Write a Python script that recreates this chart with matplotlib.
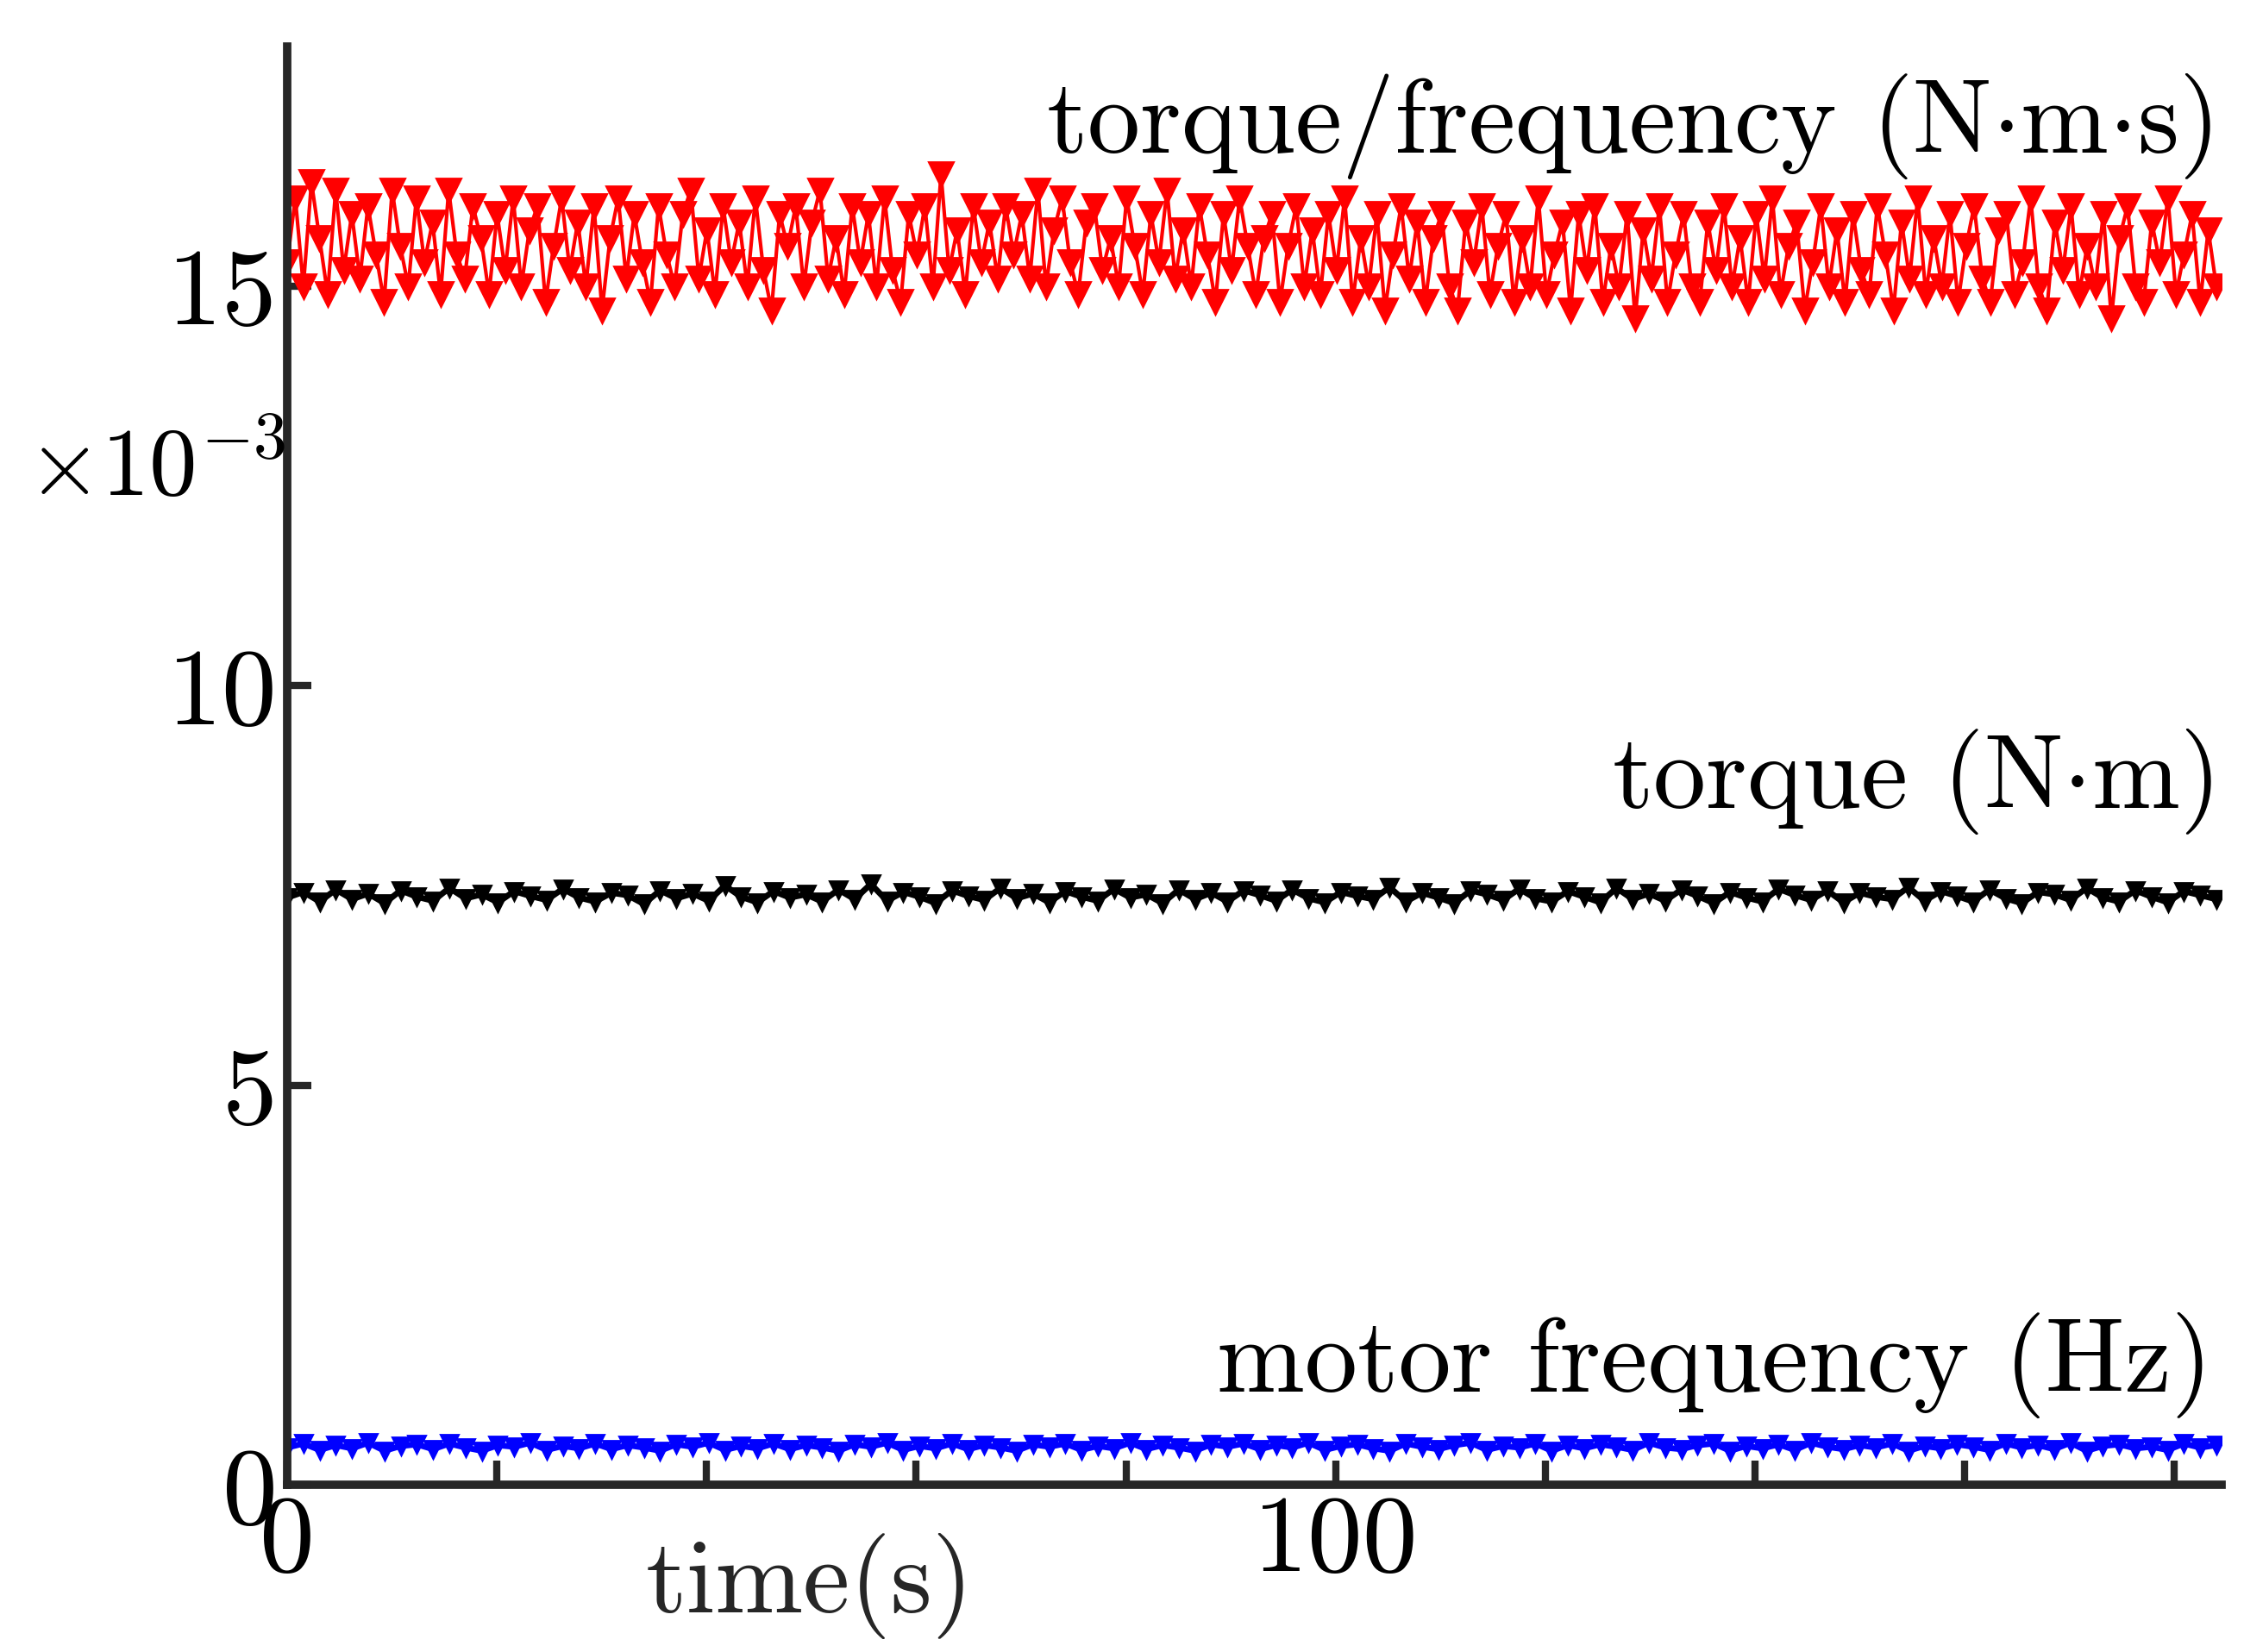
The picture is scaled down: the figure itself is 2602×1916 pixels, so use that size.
import numpy as np
import matplotlib

matplotlib.use("Agg")
import matplotlib.pyplot as plt

plt.rcParams["font.family"] = ["cmr10", "DejaVu Serif"]
plt.rcParams["mathtext.fontset"] = "cm"
plt.rcParams["axes.formatter.use_mathtext"] = True

# values in units of 1e-3 (axis is labelled x10^-3)
ratio = [
    15.3, 16.1, 15.0, 16.3, 15.6, 14.9, 16.2, 15.2, 15.9, 15.1, 16.0, 15.4, 14.8, 16.2, 15.5,
    15.0, 16.1, 15.3, 15.8, 14.9, 16.2, 15.4, 15.1, 16.0, 15.6, 14.9, 15.9, 15.2, 16.1, 15.0,
    15.7, 16.0, 14.8, 15.5, 16.1, 15.2, 15.8, 15.0, 16.0, 14.7, 15.6, 16.1, 15.1, 15.9, 15.3,
    14.8, 16.0, 15.4, 15.0, 15.9, 16.2, 15.1, 15.7, 14.9, 16.0, 15.3, 15.8, 15.0, 16.1, 15.2,
    14.7, 15.9, 15.5, 16.0, 15.0, 15.8, 16.2, 15.1, 15.6, 14.9, 16.0, 15.3, 15.9, 15.0, 16.1,
    15.2, 14.8, 15.9, 15.4, 16.0, 15.0, 16.4, 15.2, 15.7, 14.9, 16.0, 15.3, 15.8, 15.1, 16.0,
    15.4, 15.9, 15.1, 16.2, 15.0, 15.7, 16.1, 15.3, 14.9, 15.8, 16.0, 15.2, 15.6, 15.0, 16.1,
    15.5, 14.9, 15.9, 15.3, 16.2, 15.1, 15.7, 15.0, 16.0, 15.4, 14.8, 15.9, 15.2, 16.1, 15.5,
    14.9, 15.6, 15.9, 14.8, 15.5, 16.0, 15.0, 15.7, 14.9, 15.9, 15.2, 16.1, 14.8, 15.6, 15.0,
    15.9, 14.7, 15.4, 16.0, 15.1, 15.8, 14.8, 15.6, 15.9, 15.0, 14.7, 15.8, 15.3, 16.0, 14.9,
    15.5, 15.9, 14.8, 15.6, 15.0, 16.1, 14.9, 15.4, 15.8, 14.7, 15.9, 15.2, 16.0, 14.8, 15.5,
    15.0, 15.9, 14.6, 15.7, 15.1, 16.0, 14.8, 15.4, 15.9, 15.0, 14.8, 15.8, 15.2, 16.0, 15.0,
    15.6, 14.8, 15.9, 15.1, 16.1, 14.9, 15.5, 15.8, 14.7, 15.3, 16.0, 15.0, 15.7, 14.8, 15.9,
    15.2, 14.9, 16.0, 15.4, 14.7, 15.8, 15.1, 16.1, 14.9, 15.6, 15.0, 15.9, 14.8, 15.5, 16.0,
    15.1, 14.8, 15.7, 15.9, 14.9, 15.3, 16.1, 15.0, 14.7, 15.8, 15.2, 16.0, 14.9, 15.5, 15.0,
    15.9, 14.6, 15.6, 16.0, 15.0, 14.8, 15.8, 15.3, 16.1, 14.9, 15.4, 15.9, 14.8, 15.7, 15.0,
]
torque = [
    7.35, 7.42, 7.30, 7.45, 7.33, 7.40, 7.28, 7.44, 7.36, 7.31, 7.47, 7.34, 7.39, 7.29, 7.43,
    7.37, 7.32, 7.46, 7.35, 7.30, 7.41, 7.38, 7.27, 7.44, 7.34, 7.40, 7.31, 7.50, 7.36, 7.29,
    7.43, 7.35, 7.39, 7.30, 7.45, 7.33, 7.52, 7.31, 7.42, 7.36, 7.28, 7.44, 7.37, 7.32, 7.47,
    7.34, 7.40, 7.29, 7.43, 7.36, 7.31, 7.46, 7.35, 7.39, 7.28, 7.45, 7.33, 7.41, 7.30, 7.44,
    7.38, 7.31, 7.45, 7.34, 7.29, 7.42, 7.37, 7.33, 7.48, 7.30, 7.41, 7.35, 7.28, 7.44, 7.39,
    7.32, 7.46, 7.34, 7.30, 7.43, 7.36, 7.29, 7.47, 7.33, 7.40, 7.31, 7.45, 7.37, 7.28, 7.42,
    7.35, 7.30, 7.46, 7.38, 7.32, 7.44, 7.29, 7.41, 7.36, 7.33, 7.48, 7.31, 7.43, 7.37, 7.30,
    7.45, 7.34, 7.28, 7.42, 7.39, 7.32, 7.47, 7.35, 7.30, 7.44, 7.36, 7.29, 7.43, 7.38, 7.33,
]
freq = [
    0.47, 0.52, 0.44, 0.50, 0.46, 0.53, 0.43, 0.49, 0.51, 0.45, 0.52, 0.47, 0.43, 0.50, 0.48,
    0.53, 0.44, 0.49, 0.46, 0.52, 0.45, 0.50, 0.47, 0.43, 0.51, 0.48, 0.53, 0.44, 0.49, 0.46,
    0.52, 0.45, 0.50, 0.47, 0.43, 0.51, 0.48, 0.53, 0.44, 0.49, 0.46, 0.52, 0.45, 0.50, 0.47,
    0.43, 0.51, 0.48, 0.52, 0.44, 0.49, 0.46, 0.53, 0.45, 0.50, 0.47, 0.43, 0.51, 0.48, 0.52,
    0.45, 0.50, 0.47, 0.53, 0.44, 0.49, 0.51, 0.46, 0.43, 0.52, 0.48, 0.45, 0.50, 0.53, 0.44,
    0.49, 0.47, 0.52, 0.43, 0.50, 0.46, 0.51, 0.48, 0.44, 0.53, 0.47, 0.45, 0.50, 0.52, 0.43,
    0.49, 0.46, 0.51, 0.44, 0.53, 0.48, 0.45, 0.50, 0.47, 0.52, 0.43, 0.49, 0.46, 0.51, 0.48,
    0.44, 0.52, 0.47, 0.50, 0.45, 0.53, 0.43, 0.49, 0.51, 0.46, 0.48, 0.44, 0.52, 0.47, 0.50,
]
t_end = 184.0

fig = plt.figure(figsize=(13.01, 9.58), dpi=200)
ax = fig.add_axes([0.128, 0.101, 0.862, 0.871])

t_r = np.linspace(0, t_end, len(ratio))
t_t = np.linspace(0, t_end, len(torque))
t_f = np.linspace(0, t_end, len(freq))
ax.plot(t_r, ratio, color="red", marker="v", ms=10, lw=1.5)
ax.plot(t_t, torque, color="black", marker="v", ms=7, lw=2.5)
ax.plot(t_f, freq, color="blue", marker="v", ms=7, lw=2.5)

ax.set_xlim(0, 184.5)
ax.set_ylim(0, 18)
ax.set_yticks([0, 5, 10, 15])
ax.set_yticklabels(["0", "5", "10", "15"])
ax.set_xticks(np.arange(0, 181, 20))
ax.set_xticklabels(["0" if v == 0 else ("100" if v == 100 else "") for v in range(0, 181, 20)])
ax.tick_params(direction="in", length=10, width=3, labelsize=46, colors="#262626",
               labelcolor="black", pad=4)
for s in ["top", "right"]:
    ax.spines[s].set_visible(False)
for s in ["left", "bottom"]:
    ax.spines[s].set_linewidth(3.5)
    ax.spines[s].set_color("#262626")

ax.text(0.27, -0.07, "time(s)", transform=ax.transAxes, fontsize=44, ha="center",
        va="center", color="#262626")
fig.text(0.012, 0.70, r"$\times10^{\mathregular{-3}}$", fontsize=40)

ax.text(0.995, 17.0, r"torque/frequency (N$\cdot$m$\cdot$s)", fontsize=44, ha="right",
        va="center", transform=ax.get_yaxis_transform())
ax.text(0.995, 8.8, r"torque (N$\cdot$m)", fontsize=44, ha="right", va="center",
        transform=ax.get_yaxis_transform())
ax.text(0.995, 1.5, "motor frequency (Hz)", fontsize=44, ha="right", va="center",
        transform=ax.get_yaxis_transform())

fig.savefig("out.png", dpi=200, facecolor="white")
